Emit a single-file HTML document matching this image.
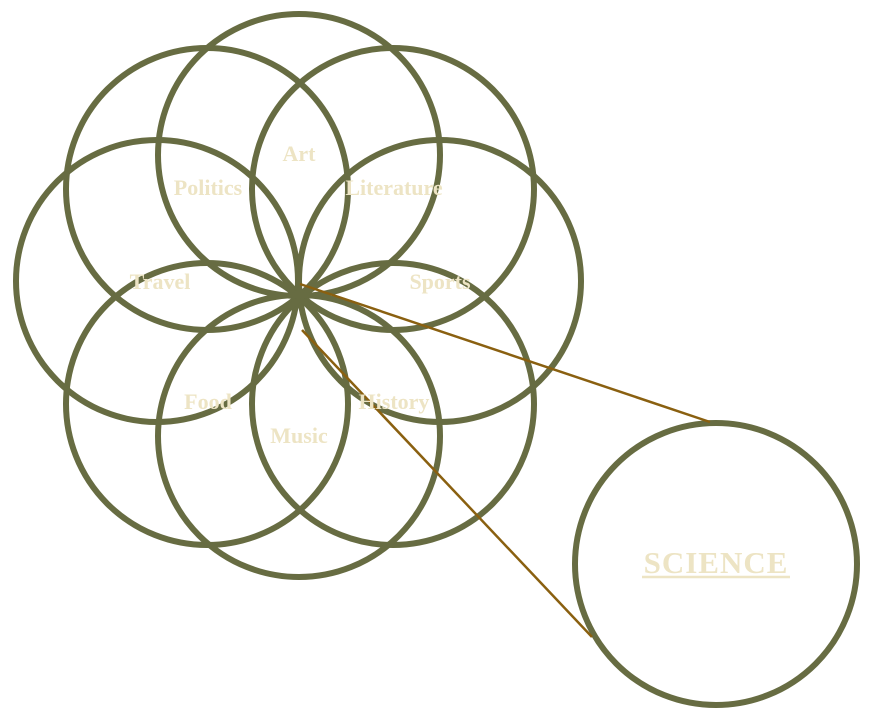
<!DOCTYPE html>
<html><head><meta charset="utf-8"><style>
html,body{margin:0;padding:0;background:#fff;}
svg{display:block;}
text{font-family:"Liberation Serif",serif;font-weight:bold;fill:#ede4c4;}
</style></head><body>
<svg width="872" height="720" viewBox="0 0 872 720">
<g fill="none" stroke="#676c42" stroke-width="6">
<circle cx="299" cy="155" r="141"/>
<circle cx="207" cy="189" r="141"/>
<circle cx="393" cy="189" r="141"/>
<circle cx="157" cy="281" r="141"/>
<circle cx="440" cy="281" r="141"/>
<circle cx="207" cy="404" r="141"/>
<circle cx="393" cy="404" r="141"/>
<circle cx="299" cy="436" r="141"/>
<circle cx="716" cy="564" r="141"/>
</g>
<g stroke="#8a6010" stroke-width="2.5">
<line x1="300" y1="284" x2="710" y2="422"/>
<line x1="302" y1="330" x2="592" y2="637"/>
</g>
<g font-size="22" text-anchor="middle">
<text x="299" y="161">Art</text>
<text x="208" y="195">Politics</text>
<text x="394" y="195">Literature</text>
<text x="160" y="289">Travel</text>
<text x="440" y="289">Sports</text>
<text x="208" y="409">Food</text>
<text x="394" y="409">History</text>
<text x="299" y="443">Music</text>
</g>
<text x="716" y="573" font-size="31" letter-spacing="1" text-anchor="middle">SCIENCE</text>
<line x1="642" y1="577" x2="790" y2="577" stroke="#ede4c4" stroke-width="2.5"/>
</svg>
</body></html>
